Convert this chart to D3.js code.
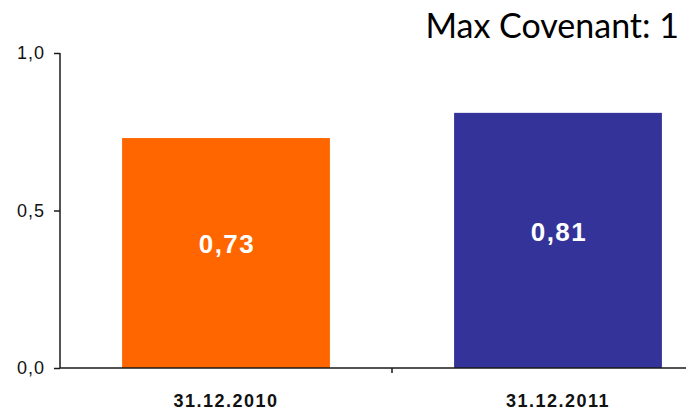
<!DOCTYPE html>
<html>
<head>
<meta charset="utf-8">
<script src="https://cdn.jsdelivr.net/npm/d3@7"></script>
<style>
  body { margin: 0; background: #fff; }
  svg { display: block; }
</style>
</head>
<body>
<div id="chart"></div>
<script>
// chart values
const categories = ['31.12.2010', '31.12.2011'];
const values = [0.73, 0.81];
const barColors = ['#FF6600', '#333399'];
const yTicks = [0, 0.5, 1];
const title = 'Max Covenant: 1';

const width = 686,
    height = 410;

const fmt = d => d3.format('.1f')(d).replace('.', ',');
const fmtVal = d => d3.format('.2f')(d).replace('.', ',');

const svg = d3.select('#chart')
    .append('svg')
    .attr('width', width)
    .attr('height', height);

// y scale
const y = d3.scaleLinear()
    .domain([0, 1])
    .range([368, 53]);

// category bands (one band per date, boundary tick between them)
const x = d3.scaleBand()
    .domain(categories)
    .range([60, 724])
    .padding(0);

// bars sit in the middle of each band
const xBar = d3.scaleBand()
    .domain(categories)
    .range([60, 724])
    .paddingInner(0.374)
    .paddingOuter(0.187);

// bars
svg.selectAll('rect.bar')
    .data(values)
    .enter()
    .append('rect')
    .attr('class', 'bar')
    .attr('x', (d, i) => xBar(categories[i]))
    .attr('width', xBar.bandwidth())
    .attr('y', d => y(d))
    .attr('height', d => y(0) - y(d))
    .style('fill', (d, i) => barColors[i]);

// value labels inside bars
svg.selectAll('text.val')
    .data(values)
    .enter()
    .append('text')
    .attr('class', 'val')
    .attr('x', (d, i) => xBar(categories[i]) + xBar.bandwidth() / 2 + 1)
    .attr('y', d => y(d / 2) - 9)
    .attr('dy', '0.36em')
    .attr('text-anchor', 'middle')
    .style('font-family', 'Liberation Sans, Arial, sans-serif')
    .style('font-weight', 'bold')
    .style('font-size', '26px')
    .style('letter-spacing', '1.5px')
    .style('fill', '#fff')
    .text(d => fmtVal(d));

// y axis
const yAxis = d3.axisLeft(y)
    .tickValues(yTicks)
    .tickSize(6)
    .tickPadding(9)
    .tickFormat(fmt);

const gy = svg.append('g')
    .attr('transform', 'translate(60,0)')
    .call(yAxis);
gy.select('.domain').attr('d', `M0,${y(1)}V${y(0)}`);
gy.selectAll('path, line').attr('stroke', '#1a1a1a').attr('stroke-width', 1.5);
gy.selectAll('text')
    .style('font-family', 'Liberation Sans, Arial, sans-serif')
    .style('font-size', '18px')
    .style('letter-spacing', '1px')
    .style('fill', '#111');

// x axis line with a tick between the categories
svg.append('line')
    .attr('x1', 60).attr('x2', width)
    .attr('y1', y(0)).attr('y2', y(0))
    .attr('stroke', '#1a1a1a').attr('stroke-width', 1.5);

svg.selectAll('line.xtick')
    .data(categories.slice(1))
    .enter()
    .append('line')
    .attr('class', 'xtick')
    .attr('x1', d => x(d)).attr('x2', d => x(d))
    .attr('y1', y(0)).attr('y2', y(0) + 5)
    .attr('stroke', '#1a1a1a').attr('stroke-width', 1.5);

// category labels
svg.selectAll('text.cat')
    .data(categories)
    .enter()
    .append('text')
    .attr('class', 'cat')
    .attr('x', d => x(d) + x.bandwidth() / 2)
    .attr('y', 407)
    .attr('text-anchor', 'middle')
    .style('font-family', 'Liberation Sans, Arial, sans-serif')
    .style('font-weight', 'bold')
    .style('font-size', '18px')
    .style('letter-spacing', '1.5px')
    .style('fill', '#111')
    .text(d => d);

// title
svg.append('text')
    .attr('x', 679)
    .attr('y', 38)
    .attr('text-anchor', 'end')
    .style('font-family', 'Lato, sans-serif')
    .style('font-size', '34px')
    .style('fill', '#000')
    .text(title);
</script>
</body>
</html>
